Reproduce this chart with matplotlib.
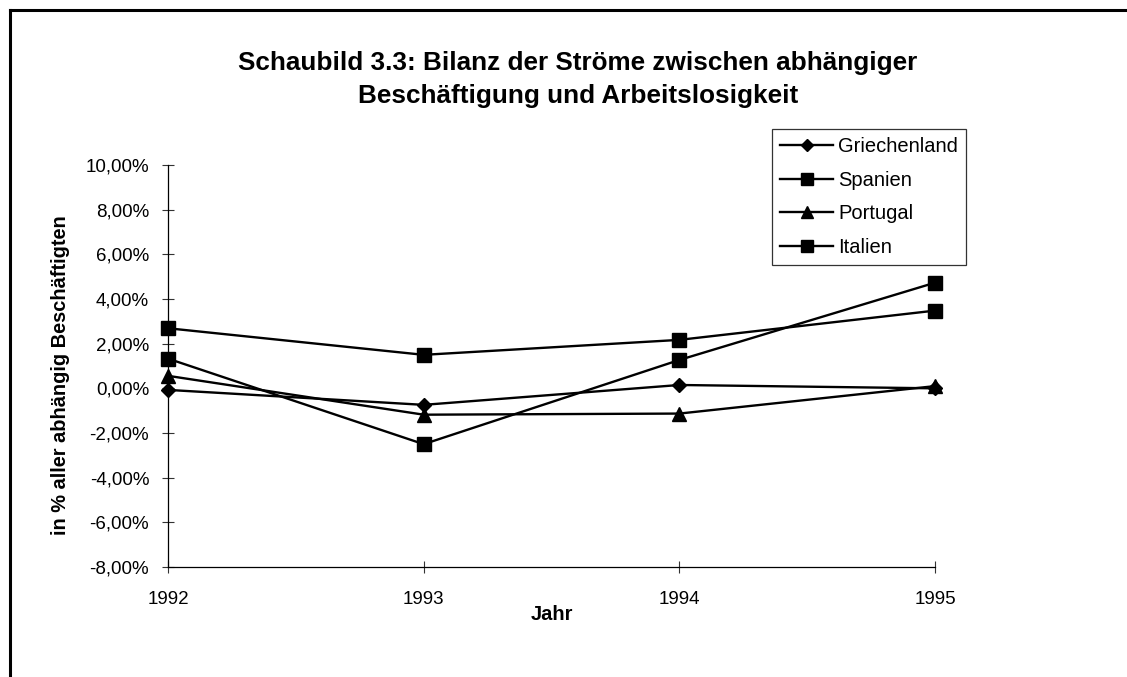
import matplotlib
matplotlib.use("Agg")
import matplotlib.pyplot as plt
from matplotlib.ticker import FuncFormatter, MultipleLocator

plt.rcParams["font.family"] = ["Liberation Sans", "DejaVu Sans"]

years = ["1992", "1993", "1994", "1995"]
griechenland = [-0.07, -0.74, 0.15, 0.0]
spanien = [2.69, 1.50, 2.17, 3.48]
portugal = [0.56, -1.18, -1.13, 0.10]
italien = [1.33, -2.50, 1.27, 4.73]

W, H = 1127, 677
fig = plt.figure(figsize=(W / 100, H / 100), dpi=100)
ax = fig.add_axes([168 / W, 1 - 567 / H, (935 - 168) / W, (567 - 165) / H])

x = range(len(years))
style = dict(color="black", lw=1.7, clip_on=False)
ax.plot(x, griechenland, marker="D", ms=7.5, label="Griechenland", **style)
ax.plot(x, spanien, marker="s", ms=10.5, label="Spanien", **style)
ax.plot(x, portugal, marker="^", ms=10.5, label="Portugal", **style)
ax.plot(x, italien, marker="s", ms=10.5, label="Italien", **style)

ax.set_xlim(0, len(years) - 1)
ax.set_ylim(-8, 10)
ax.set_xticks(list(x))
ax.set_xticklabels(years)
ax.yaxis.set_major_locator(MultipleLocator(2))
ax.yaxis.set_major_formatter(FuncFormatter(lambda v, p: f"{v:.2f}%".replace(".", ",")))

for s in ("top", "right"):
    ax.spines[s].set_visible(False)
for s in ("left", "bottom"):
    ax.spines[s].set_linewidth(0.9)
ax.tick_params(direction="inout", length=8, width=0.8, color="#333333", labelsize=13.5)
ax.tick_params(axis="y", pad=9.5)
ax.tick_params(axis="x", pad=13)

ax.set_xlabel("Jahr", fontsize=14.4, fontweight="bold", labelpad=-2)
ax.set_ylabel("in % aller abhängig Beschäftigten", fontsize=14.4, fontweight="bold")
ax.yaxis.set_label_coords(70 / W, 1 - 375 / H, transform=fig.transFigure)

fig.text(578 / W, 1 - 51 / H,
         "Schaubild 3.3: Bilanz der Ströme zwischen abhängiger\nBeschäftigung und Arbeitslosigkeit",
         ha="center", va="top", fontsize=18.8, fontweight="bold", linespacing=1.45)

leg = ax.legend(loc="upper left", bbox_to_anchor=(772 / W, 1 - 129 / H),
                bbox_transform=fig.transFigure, frameon=True, fancybox=False,
                edgecolor="black", fontsize=14.5, handlelength=2.65, handletextpad=0.25,
                borderpad=0.4, labelspacing=0.72, borderaxespad=0)
leg.get_frame().set_linewidth(0.9)
for h in leg.legend_handles:
    h.set_markersize(h.get_markersize() * 0.85)

# outer chart border (only top and left edges fall inside the picture)
bx, by = 9.5 / W, 1 - 9.8 / H
fig.add_artist(plt.Line2D([bx, bx], [0, by], transform=fig.transFigure, color="black", lw=2.2))
fig.add_artist(plt.Line2D([bx, 1], [by, by], transform=fig.transFigure, color="black", lw=2.2))

fig.savefig("out.png", dpi=100)
